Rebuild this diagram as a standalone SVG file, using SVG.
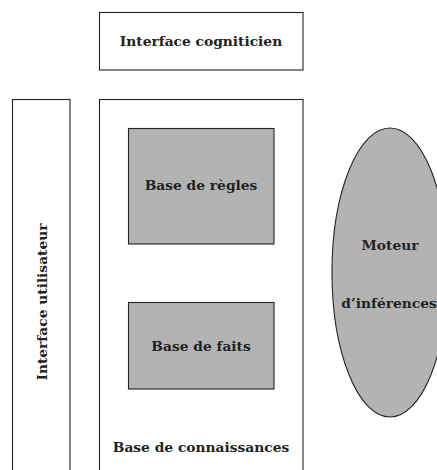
<svg xmlns="http://www.w3.org/2000/svg" width="437" height="470" viewBox="0 0 437 470">
<style>
.box{fill:#fff;stroke:#222;stroke-width:1.1}
.gray{fill:#b3b3b3;stroke:#222;stroke-width:1.1}
.t{font-family:"DejaVu Serif","Liberation Serif",serif;font-weight:bold;font-size:13.8px;fill:#222;text-anchor:middle;dominant-baseline:central}
</style>
<rect width="437" height="470" fill="#fff"/>
<g id="interface-cogniticien">
<rect class="box" x="99.5" y="12.5" width="203.5" height="57.5"/>
<text class="t" x="201" y="41">Interface cogniticien</text>
</g>
<g id="interface-utilisateur">
<rect class="box" x="12.5" y="99.5" width="57.5" height="380"/>
<text class="t" transform="translate(42,302) rotate(-90)">Interface utilisateur</text>
</g>
<g id="base-connaissances">
<rect class="box" x="99.5" y="99.5" width="203.5" height="380"/>
<text class="t" x="201" y="447">Base de connaissances</text>
</g>
<g id="base-regles">
<rect class="gray" x="128.5" y="128.5" width="145.5" height="115.5"/>
<text class="t" x="201" y="185">Base de règles</text>
</g>
<g id="base-faits">
<rect class="gray" x="128.5" y="302.5" width="145.5" height="86.5"/>
<text class="t" x="201" y="346">Base de faits</text>
</g>
<g id="moteur">
<ellipse class="gray" cx="390" cy="272.5" rx="58" ry="144.5"/>
<text class="t" x="390" y="245">Moteur</text>
<text class="t" x="389" y="303">d’inférences</text>
</g>
<g id="connectors"/>
</svg>
